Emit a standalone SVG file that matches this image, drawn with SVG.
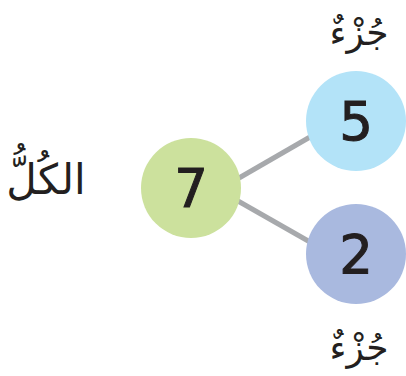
<svg xmlns="http://www.w3.org/2000/svg" width="406" height="376" viewBox="0 0 406 376">
<style>
.num{font-family:"DejaVu Sans","Liberation Sans",sans-serif;font-size:53px;fill:#231f20;stroke:#231f20;stroke-width:1;text-anchor:middle}
.ar{font-family:"DejaVu Sans",sans-serif;fill:#231f20;text-anchor:middle}
.link{stroke:#a7a9ac;stroke-width:5;fill:none}
</style>
<rect width="406" height="376" fill="#fff"/>
<g id="connectors">
<line class="link" x1="239" y1="178" x2="310" y2="137"/>
<line class="link" x1="238" y1="201" x2="310" y2="242"/>
</g>
<g id="whole">
<circle cx="191" cy="188" r="50" fill="#cce19d"/>
<text class="num" x="191" y="207">7</text>
</g>
<g id="part1">
<circle cx="356" cy="121" r="50" fill="#b3e3f8"/>
<text class="num" x="356" y="140">5</text>
</g>
<g id="part2">
<circle cx="356" cy="254" r="50" fill="#a9b9df"/>
<text class="num" x="356" y="273">2</text>
</g>
<g id="labels">
<text class="ar" x="359" y="45" font-size="36">جُزْءٌ</text>
<text class="ar" x="359" y="360" font-size="36">جُزْءٌ</text>
<text class="ar" x="46" y="194" font-size="42">الكُلُّ</text>
</g>
</svg>
